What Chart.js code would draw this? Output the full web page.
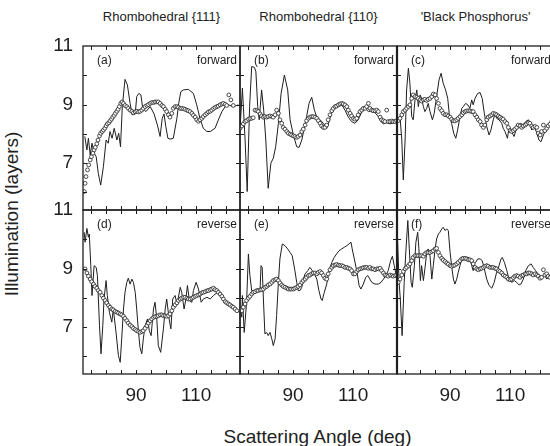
<!DOCTYPE html>
<html>
<head>
<meta charset="utf-8">
<script src="https://cdn.jsdelivr.net/npm/chart.js@4.4.1/dist/chart.umd.min.js"></script>
<style>
html, body { margin: 0; padding: 0; background: #fff; overflow: hidden; }
#wrap { position: relative; width: 550px; height: 446px; overflow: hidden;
        font-family: "Liberation Sans", Arial, Helvetica, sans-serif; color: #222; }
canvas { position: absolute; }
.coltitle { position: absolute; top: 9px; width: 157px; text-align: center; font-size: 13px; white-space: nowrap; }
#xtitle { position: absolute; top: 426px; left: 0; width: 635px; text-align: center; font-size: 19px; }
#ytitle { position: absolute; left: 12px; top: 214px; font-size: 19px; white-space: nowrap;
          transform: translate(-50%, -50%) rotate(-90deg); }
</style>
</head>
<body>
<div id="wrap">
  <div class="coltitle" style="left:83px">Rhombohedral {111}</div>
  <div class="coltitle" style="left:240px">Rhombohedral {110}</div>
  <div class="coltitle" style="left:397px">'Black Phosphorus'</div>
  <div id="ytitle">Illumination (layers)</div>
  <div id="xtitle">Scattering Angle (deg)</div>
</div>
<script>
// axis setup
var angleMin = 72.3, angleMax = 124.63;
var illumMin = 5.4, illumMax = 11;
var xLabels = [90, 110];
var yLabels = [7, 9, 11];
var xMinor = [75, 80, 85, 90, 95, 100, 105, 110, 115, 120];
var yMinor = [6, 7, 8, 9, 10];

// (a) Rhombohedral {111} forward
var aLineDeg = [72.9,73.6,74.1,74.7,75.3,76.0,76.7,77.4,78.2,79.1,80.0,80.7,81.3,82.0,82.7,83.6,84.2,84.8,85.4,86.3,87.1,88.0,88.7,89.7,90.2,90.9,91.6,92.2,93.3,94.7,96.0,97.1,98.0,98.7,99.3,99.9,100.6,101.3,102.4,103.6,104.2,104.9,105.8,107.4,109.1,110.2,111.3,112.4,113.6,114.7,116.3,117.4,118.6,119.7,120.8,122.4,124.1];
var aLineIllum = [7.91,7.45,7.85,7.28,7.68,7.34,7.22,6.65,6.25,6.88,7.79,7.68,8.08,7.85,8.19,7.79,8.02,7.56,8.93,9.86,9.67,9.04,8.65,8.68,9.27,9.38,9.33,8.87,8.76,8.93,8.68,8.30,7.91,8.53,8.68,8.25,7.85,7.82,7.85,8.53,9.04,9.44,9.50,9.52,9.38,8.99,8.53,8.19,8.08,8.08,8.19,8.47,8.76,8.93,8.99,8.93,8.99];
var aDotDeg = [72.7,73.0,73.3,73.8,74.2,74.7,75.1,75.6,76.0,76.4,76.9,77.3,77.8,78.2,78.7,79.1,79.6,80.0,80.4,80.9,81.3,81.8,82.2,82.7,83.1,83.6,84.0,84.4,84.9,85.3,85.8,86.3,86.9,87.4,88.0,88.6,89.1,89.7,90.2,90.8,91.3,91.9,92.4,93.0,93.6,94.1,94.7,95.2,95.8,96.3,96.9,97.4,98.0,98.6,99.1,99.7,100.2,100.8,101.3,101.9,102.4,103.0,103.6,104.1,104.7,105.2,105.8,106.3,106.9,107.4,108.0,108.6,109.1,109.7,110.2,110.8,111.3,111.9,112.4,113.0,113.6,114.1,114.7,115.2,115.8,116.3,116.9,117.4,118.0,118.6,119.1,119.7,120.2,120.9,121.6,122.4];
var aDotIllum = [6.03,6.31,6.54,6.77,6.94,7.11,7.22,7.34,7.45,7.54,7.66,7.79,7.93,8.02,8.08,8.13,8.19,8.27,8.34,8.38,8.44,8.50,8.57,8.63,8.70,8.77,8.84,8.93,9.04,9.09,9.04,8.97,8.93,8.87,8.81,8.77,8.72,8.75,8.77,8.75,8.77,8.81,8.87,8.93,8.97,9.00,9.04,9.07,9.07,9.09,9.09,9.09,9.04,8.97,8.93,8.84,8.76,8.65,8.57,8.70,8.87,8.93,8.93,8.91,8.87,8.87,8.86,8.84,8.81,8.79,8.76,8.70,8.63,8.57,8.48,8.43,8.48,8.53,8.59,8.65,8.70,8.75,8.77,8.81,8.86,8.90,8.93,8.95,8.99,9.02,9.04,9.01,8.97,9.33,9.16,8.97];

// (b) Rhombohedral {110} forward
var bLineDeg = [72.3,73.1,74.0,74.7,75.5,76.2,77.1,77.6,78.2,78.7,79.5,80.2,80.9,81.7,82.6,83.4,84.2,85.1,86.0,87.1,88.2,89.0,90.1,91.2,92.0,92.9,93.7,94.5,95.3,96.2,97.1,97.9,99.0,100.1,101.2,102.0,102.9,104.0,105.1,106.2,107.3,108.4,109.5,110.6,111.7,112.9,114.0,115.1,116.2,117.3,118.4,119.3,120.1,121.2,122.3,123.4,124.5];
var bLineIllum = [8.13,9.56,7.79,6.03,8.93,10.30,10.27,10.12,8.93,8.48,9.50,8.81,7.79,6.14,7.00,7.17,7.56,8.36,9.38,10.01,9.50,8.48,7.96,7.56,7.54,7.79,8.19,8.59,9.04,9.25,8.81,8.57,8.48,8.36,8.19,8.42,8.76,8.93,8.95,8.99,8.81,8.57,8.42,8.36,8.48,8.76,8.87,8.76,8.79,8.72,8.59,8.42,8.34,8.38,8.34,8.38,8.45];
var bDotDeg = [72.3,72.9,73.4,74.0,74.5,75.1,75.6,76.2,76.7,77.3,77.9,78.4,79.0,79.5,80.1,80.6,81.2,81.7,82.3,82.9,83.4,84.0,84.5,85.1,85.6,86.2,86.7,87.3,87.9,88.4,89.0,89.5,90.1,90.6,91.2,91.7,92.3,92.9,93.4,94.0,94.5,95.1,95.6,96.2,96.7,97.3,97.9,98.4,99.0,99.5,100.1,100.6,101.2,101.7,102.3,102.9,103.4,104.0,104.5,105.1,105.6,106.2,106.7,107.3,107.9,108.4,109.0,109.5,110.1,110.6,111.2,111.7,112.3,112.9,113.4,114.0,114.5,115.1,115.6,116.2,116.7,117.3,117.9,118.4,119.0,119.5,120.1,120.6,121.2,121.7,122.3,122.9,123.4,124.0,124.5];
var bDotIllum = [8.19,8.27,8.34,8.42,8.45,8.50,8.52,8.53,8.55,8.81,8.79,8.76,8.68,8.61,8.57,8.59,8.57,8.59,8.61,8.59,8.57,8.65,8.81,8.70,8.48,8.36,8.22,8.16,8.08,8.02,7.99,7.96,7.93,7.91,7.88,7.91,7.96,8.08,8.16,8.30,8.45,8.53,8.57,8.59,8.59,8.57,8.53,8.45,8.36,8.27,8.22,8.22,8.30,8.48,8.65,8.79,8.87,8.93,8.95,8.99,9.02,9.04,9.02,8.99,8.93,8.81,8.70,8.61,8.53,8.50,8.53,8.65,8.76,8.81,8.87,8.87,8.93,9.04,8.87,8.81,8.79,8.79,8.81,8.76,8.57,8.48,8.45,8.42,8.81,8.42,8.42,8.44,8.42,8.42,8.45];

// (c) 'Black Phosphorus' forward
var cLineDeg = [72.5,73.3,73.9,74.4,75.0,75.5,76.1,76.6,77.2,77.7,78.3,78.9,79.4,80.0,80.5,81.1,81.6,82.2,82.7,83.3,84.1,84.7,85.5,86.3,87.0,87.7,88.5,89.2,89.7,90.5,91.2,91.9,92.5,93.3,93.9,94.4,95.2,95.9,96.6,97.2,97.7,98.3,99.2,100.0,100.7,101.4,102.2,103.0,103.6,104.4,105.0,105.5,106.3,107.2,107.7,108.3,109.1,109.7,110.5,111.3,112.0,112.7,113.5,114.4,115.2,116.1,116.6,117.2,118.1,118.9,119.6,120.3,121.1,121.9,122.7,123.3,124.4];
var cLineIllum = [8.48,8.59,7.79,6.43,7.79,9.50,10.24,9.73,8.59,8.48,9.16,9.50,8.93,9.33,9.21,8.93,8.76,8.87,9.04,8.76,8.48,8.70,9.27,9.84,10.07,9.73,9.50,9.21,8.70,8.36,8.02,7.85,8.13,8.59,8.87,8.93,9.04,8.99,8.87,9.16,8.99,9.21,9.38,9.41,9.21,8.70,8.25,7.96,8.13,8.48,8.70,8.53,8.48,8.36,8.19,8.08,7.85,8.25,8.08,7.91,8.13,8.25,8.36,8.30,8.42,8.48,8.36,8.13,8.25,8.02,7.79,7.73,7.96,8.13,8.25,8.30,8.45];
var cDotDeg = [72.7,73.3,73.9,74.4,75.0,75.5,76.1,76.6,77.2,77.7,78.3,78.9,79.4,80.0,80.5,81.1,81.6,82.2,82.7,83.3,83.9,84.4,85.0,85.5,86.1,86.6,87.2,87.7,88.3,88.9,89.4,90.0,90.5,91.1,91.6,92.2,92.7,93.3,93.9,94.4,95.0,95.5,96.1,96.6,97.2,97.7,98.3,98.9,99.4,100.0,100.5,101.1,101.6,102.2,102.7,103.3,103.9,104.4,105.0,105.5,106.1,106.6,107.2,107.7,108.3,108.9,109.4,110.0,110.5,111.1,111.6,112.2,112.7,113.3,113.9,114.4,115.0,115.5,116.1,116.6,117.2,117.7,118.3,118.9,119.4,120.0,120.5,121.1,121.6,122.2,122.7,123.3,123.9];
var cDotIllum = [8.45,8.53,8.65,8.76,8.81,8.87,8.93,8.99,9.21,9.33,9.27,9.25,9.21,9.16,9.12,9.16,9.18,9.14,9.18,9.21,9.27,9.36,9.33,9.21,9.04,8.87,8.79,8.70,8.65,8.65,8.61,8.57,8.50,8.45,8.44,8.48,8.53,8.59,8.65,8.72,8.76,8.78,8.79,8.78,8.76,8.76,8.65,8.57,8.48,8.42,8.30,8.22,8.30,8.48,8.57,8.61,8.65,8.70,8.68,8.65,8.61,8.57,8.53,8.50,8.42,8.36,8.22,8.11,8.08,8.11,8.16,8.22,8.30,8.27,8.22,8.27,8.30,8.34,8.38,8.36,8.27,8.22,8.25,8.22,8.02,7.96,8.08,8.30,8.11,8.19,8.27,8.33,8.42];

// (d) Rhombohedral {111} reverse
var dLineDeg = [72.7,73.0,73.6,74.1,74.4,74.9,75.3,76.0,76.7,77.1,77.8,78.3,78.9,79.3,80.0,80.4,81.1,81.9,82.4,83.3,84.1,84.7,85.2,85.8,86.3,86.9,87.4,88.0,88.6,89.1,89.7,90.2,90.8,91.3,91.9,92.4,93.0,93.8,94.4,95.0,95.8,96.3,96.9,97.4,98.2,99.1,99.7,100.2,101.0,101.6,102.2,103.0,103.6,104.1,104.7,105.2,106.0,106.6,107.1,107.8,108.6,109.1,110.0,110.8,111.7,112.4,113.6,114.7,115.8,116.9,118.0,118.6,119.1,120.2,121.3,122.4,123.6,124.1];
var dLineIllum = [10.24,9.90,10.37,10.07,10.18,9.10,8.08,9.10,9.04,8.76,7.05,6.09,7.05,7.96,8.59,8.08,7.51,7.17,7.62,6.83,6.03,5.80,6.60,7.62,8.19,8.53,8.67,8.47,8.64,8.53,8.19,7.62,6.83,6.31,6.09,6.60,7.05,7.28,6.88,6.71,7.62,7.85,7.28,6.37,6.14,6.94,7.62,7.96,7.28,6.94,7.96,8.08,7.79,8.02,8.36,8.19,7.62,7.96,8.42,7.90,7.85,8.25,8.53,8.30,7.85,7.96,8.02,7.96,8.08,8.17,8.13,8.02,7.90,7.79,7.76,7.68,7.62,7.51];
var dDotDeg = [73.0,73.6,74.1,74.7,75.2,75.8,76.3,76.9,77.4,78.0,78.6,79.1,79.7,80.2,80.8,81.3,81.9,82.4,83.0,83.6,84.1,84.7,85.2,85.8,86.3,86.9,87.4,88.0,88.6,89.1,89.7,90.2,90.8,91.3,91.9,92.4,93.0,93.6,94.1,94.7,95.2,95.8,96.3,96.9,97.4,98.0,98.6,99.1,99.7,100.2,100.8,101.3,101.9,102.4,103.0,103.6,104.1,104.7,105.2,105.8,106.3,106.9,107.4,108.0,108.6,109.1,109.7,110.2,110.8,111.3,111.9,112.4,113.0,113.6,114.1,114.7,115.2,115.8,116.3,116.9,117.4,118.0,118.6,119.1,119.7,120.2,120.8,121.3,121.9,122.4,123.0,123.6];
var dDotIllum = [8.99,8.85,8.74,8.64,8.55,8.47,8.39,8.33,8.25,8.19,8.08,7.99,7.91,7.83,7.74,7.68,7.62,7.59,7.54,7.51,7.48,7.45,7.42,7.37,7.30,7.22,7.14,7.07,7.02,6.96,6.92,6.88,6.85,6.82,6.85,6.88,6.96,7.05,7.14,7.22,7.28,7.33,7.36,7.37,7.39,7.42,7.42,7.39,7.39,7.37,7.39,7.45,7.56,7.68,7.76,7.83,7.91,7.96,7.99,8.02,8.02,7.99,7.96,7.96,7.99,8.02,8.05,8.08,8.10,8.13,8.17,8.19,8.21,8.24,8.25,8.28,8.30,8.33,8.28,8.25,8.19,8.13,8.05,7.96,7.87,7.83,7.79,7.76,7.71,7.68,7.62,7.56];

// (e) Rhombohedral {110} reverse
var eLineDeg = [72.3,72.9,73.1,73.7,74.5,75.1,75.6,76.2,77.3,78.4,79.0,79.3,79.7,80.1,80.6,81.2,81.7,82.3,82.9,83.4,84.0,84.5,85.1,85.6,86.4,87.3,88.2,89.0,89.7,90.6,91.2,91.7,92.3,92.9,93.4,94.0,94.9,95.6,96.4,97.1,97.9,98.6,99.3,99.7,100.4,101.2,102.0,102.9,103.7,104.5,105.3,106.2,107.1,107.9,108.6,109.3,109.7,110.4,111.2,112.0,112.6,113.4,114.2,114.9,115.6,116.2,117.3,118.4,119.3,120.1,120.9,121.7,122.5,123.1,123.7,124.5];
var eLineIllum = [7.62,7.34,8.08,6.82,7.85,9.50,8.76,8.25,8.25,8.21,8.30,9.10,9.04,7.96,6.77,6.82,6.71,6.82,6.60,6.37,6.60,7.39,8.53,9.33,9.84,9.78,9.67,9.55,9.44,8.93,8.53,8.25,8.25,8.36,8.64,8.82,8.93,9.04,8.93,8.82,8.64,8.25,7.96,7.91,8.19,8.47,8.93,9.21,9.38,9.50,9.61,9.67,9.73,9.78,9.84,9.90,9.67,9.33,8.93,8.42,8.30,8.47,8.70,8.76,8.64,8.53,8.47,8.47,8.53,8.64,8.76,8.93,9.27,9.42,9.10,8.70];
var eDotDeg = bDotDeg;
var eDotIllum = [7.62,7.56,7.68,7.79,7.91,7.99,8.05,8.13,8.19,8.21,8.25,8.25,8.27,8.28,8.30,8.36,8.39,8.44,8.47,8.53,8.59,8.62,8.64,8.59,8.51,8.44,8.39,8.36,8.33,8.30,8.30,8.30,8.30,8.33,8.36,8.39,8.44,8.53,8.59,8.64,8.70,8.76,8.78,8.82,8.85,8.85,8.82,8.87,8.90,8.85,8.76,8.67,8.64,8.82,8.96,9.04,9.10,9.12,9.14,9.12,9.10,9.10,9.08,9.04,9.04,9.01,8.99,8.93,8.82,8.82,8.90,8.96,8.99,9.01,9.03,9.04,9.04,9.01,9.04,8.99,8.99,8.96,8.99,8.99,9.01,8.93,8.85,8.78,8.76,8.74,8.78,8.76,8.74,8.76,8.78];

// (f) 'Black Phosphorus' reverse
var fLineDeg = [72.4,73.0,73.4,74.0,74.7,75.3,75.9,76.4,77.0,77.4,78.1,78.6,79.2,79.6,80.1,80.5,81.1,81.6,82.2,82.7,83.3,83.9,84.4,85.0,85.5,86.1,86.6,87.2,87.7,88.3,88.9,89.4,90.0,90.5,91.1,91.6,92.2,92.7,93.3,93.9,94.4,95.0,95.5,96.1,96.6,97.2,97.7,98.1,98.5,99.2,100.0,100.7,101.4,102.2,103.0,103.9,104.7,105.5,106.3,107.0,107.4,108.1,108.9,109.6,110.5,111.4,112.2,113.0,113.6,114.4,115.2,116.1,117.0,117.7,118.5,119.2,120.0,120.5,121.1,121.6,122.2,122.7,124.4];
var fLineIllum = [10.24,8.53,7.96,6.71,8.53,9.67,10.64,9.67,8.53,8.36,9.10,9.90,10.24,9.67,8.59,9.10,8.59,8.99,9.55,9.67,9.44,8.64,9.10,9.67,10.01,10.18,10.24,10.35,10.41,10.30,10.35,10.30,9.55,9.10,8.64,8.47,8.64,8.87,9.10,9.33,9.38,9.33,9.38,9.38,9.33,9.10,8.93,9.16,9.21,9.33,9.33,9.27,8.99,8.64,8.42,8.33,8.53,8.87,9.10,9.33,9.38,9.21,8.93,8.64,8.53,8.59,8.53,8.44,8.47,8.64,8.93,9.10,9.16,9.04,8.93,8.82,8.76,8.64,8.70,8.76,8.64,8.70,8.80];
var fDotDeg = cDotDeg;
var fDotIllum = [8.53,8.64,8.78,8.90,8.99,9.04,9.10,9.16,9.27,9.38,9.44,9.44,9.44,9.44,9.44,9.42,9.50,9.55,9.55,9.55,9.58,9.61,9.67,9.69,9.55,9.44,9.35,9.29,9.24,9.19,9.15,9.10,9.08,9.10,9.12,9.16,9.21,9.27,9.33,9.35,9.35,9.33,9.30,9.30,9.27,9.16,9.04,8.99,8.96,8.99,9.01,9.04,9.08,9.10,9.08,9.04,9.04,9.04,9.01,8.99,8.93,8.90,8.85,8.78,8.74,8.70,8.64,8.62,8.64,8.69,8.74,8.76,8.74,8.70,8.76,8.78,8.82,8.82,8.85,8.85,8.82,8.78,8.82,8.78,8.74,8.67,8.70,8.96,8.78,8.82,8.74,8.70,8.75];

var FONT = '"Liberation Sans", Arial, Helvetica, sans-serif';
var INK = '#1e1e1e';
Chart.defaults.font.family = FONT;
Chart.defaults.color = INK;

// panel layout
var colLeft = [83, 240, 397];
var rowTop = [46, 210];
var plotW = 157, plotH = 164;

function pts(xs, ys) {
  return xs.map(function (x, i) { return { x: x, y: ys[i] }; });
}

var panelDecor = {
  id: 'panelDecor',
  afterDatasetsDraw: function (chart, args, opts) {
    var ctx = chart.ctx, a = chart.chartArea;
    var x = chart.scales.x, y = chart.scales.y;
    ctx.save();
    ctx.strokeStyle = INK;
    ctx.lineWidth = 1;
    ctx.beginPath();
    xMinor.forEach(function (v) {
      var px = Math.round(x.getPixelForValue(v)) + 0.5;
      ctx.moveTo(px, a.top); ctx.lineTo(px, a.top + 4);
      ctx.moveTo(px, a.bottom); ctx.lineTo(px, a.bottom - 4);
    });
    yMinor.forEach(function (v) {
      var py = Math.round(y.getPixelForValue(v)) + 0.5;
      ctx.moveTo(a.left, py); ctx.lineTo(a.left + 4, py);
      ctx.moveTo(a.right, py); ctx.lineTo(a.right - 4, py);
    });
    ctx.stroke();
    ctx.lineWidth = 1.3;
    ctx.strokeRect(a.left, a.top, a.right - a.left, a.bottom - a.top);
    if (opts.thickLeft) {
      ctx.lineWidth = 2.2;
      ctx.beginPath(); ctx.moveTo(a.left, a.top); ctx.lineTo(a.left, a.bottom); ctx.stroke();
    }
    ctx.fillStyle = INK;
    ctx.font = '12px ' + FONT;
    ctx.textBaseline = 'middle';
    ctx.textAlign = 'left';
    ctx.fillText(opts.tag, a.left + 14, a.top + 15);
    ctx.textAlign = 'right';
    ctx.fillText(opts.dir, a.right - 3, a.top + 15);
    ctx.restore();
  }
};

function noPad(s) {
  s.paddingTop = 0; s.paddingBottom = 0; s.paddingLeft = 0; s.paddingRight = 0;
}

function makePanel(col, row, lineX, lineY, dotX, dotY, tag, dir) {
  var showY = col === 0, showX = row === 1;
  var padL = showY ? 50 : 2;
  var padB = showX ? 32 : 2;
  var w = padL + plotW + 2, h = 12 + plotH + padB;
  var cv = document.createElement('canvas');
  cv.width = w; cv.height = h;
  cv.style.width = w + 'px'; cv.style.height = h + 'px';
  cv.style.left = (colLeft[col] - padL) + 'px';
  cv.style.top = (rowTop[row] - 12) + 'px';
  document.getElementById('wrap').appendChild(cv);

  new Chart(cv, {
    type: 'scatter',
    data: {
      datasets: [
        {
          type: 'scatter',
          data: pts(dotX, dotY),
          pointStyle: 'circle',
          pointRadius: 1.9,
          borderWidth: 0.8,
          borderColor: INK,
          backgroundColor: '#fff',
          order: 0
        },
        {
          type: 'line',
          data: pts(lineX, lineY),
          borderColor: INK,
          borderWidth: 1,
          pointRadius: 0,
          tension: 0,
          fill: false,
          order: 1
        }
      ]
    },
    options: {
      responsive: false,
      animation: false,
      devicePixelRatio: 1,
      layout: {
        autoPadding: false,
        padding: { top: 12, left: showY ? 0 : 2, right: 2, bottom: showX ? 0 : 2 }
      },
      plugins: {
        legend: { display: false },
        tooltip: { enabled: false },
        panelDecor: { tag: tag, dir: dir, thickLeft: col === 2 }
      },
      scales: {
        x: {
          type: 'linear',
          min: angleMin,
          max: angleMax,
          display: showX,
          position: 'bottom',
          grid: { display: false, drawTicks: false },
          border: { display: false },
          ticks: { font: { size: 19 }, color: INK, padding: 10, maxRotation: 0, autoSkip: false },
          afterBuildTicks: function (s) { s.ticks = xLabels.map(function (v) { return { value: v }; }); },
          afterFit: function (s) { s.height = showX ? 32 : 0; noPad(s); }
        },
        y: {
          type: 'linear',
          min: illumMin,
          max: illumMax,
          display: showY,
          position: 'left',
          grid: { display: false, drawTicks: false },
          border: { display: false },
          ticks: { font: { size: 19 }, color: INK, padding: 10 },
          afterBuildTicks: function (s) { s.ticks = yLabels.map(function (v) { return { value: v }; }); },
          afterFit: function (s) { s.width = showY ? 50 : 0; noPad(s); }
        }
      }
    },
    plugins: [panelDecor]
  });
}

makePanel(0, 0, aLineDeg, aLineIllum, aDotDeg, aDotIllum, '(a)', 'forward');
makePanel(1, 0, bLineDeg, bLineIllum, bDotDeg, bDotIllum, '(b)', 'forward');
makePanel(2, 0, cLineDeg, cLineIllum, cDotDeg, cDotIllum, '(c)', 'forward');
makePanel(0, 1, dLineDeg, dLineIllum, dDotDeg, dDotIllum, '(d)', 'reverse');
makePanel(1, 1, eLineDeg, eLineIllum, eDotDeg, eDotIllum, '(e)', 'reverse');
makePanel(2, 1, fLineDeg, fLineIllum, fDotDeg, fDotIllum, '(f)', 'reverse');
</script>
</body>
</html>
